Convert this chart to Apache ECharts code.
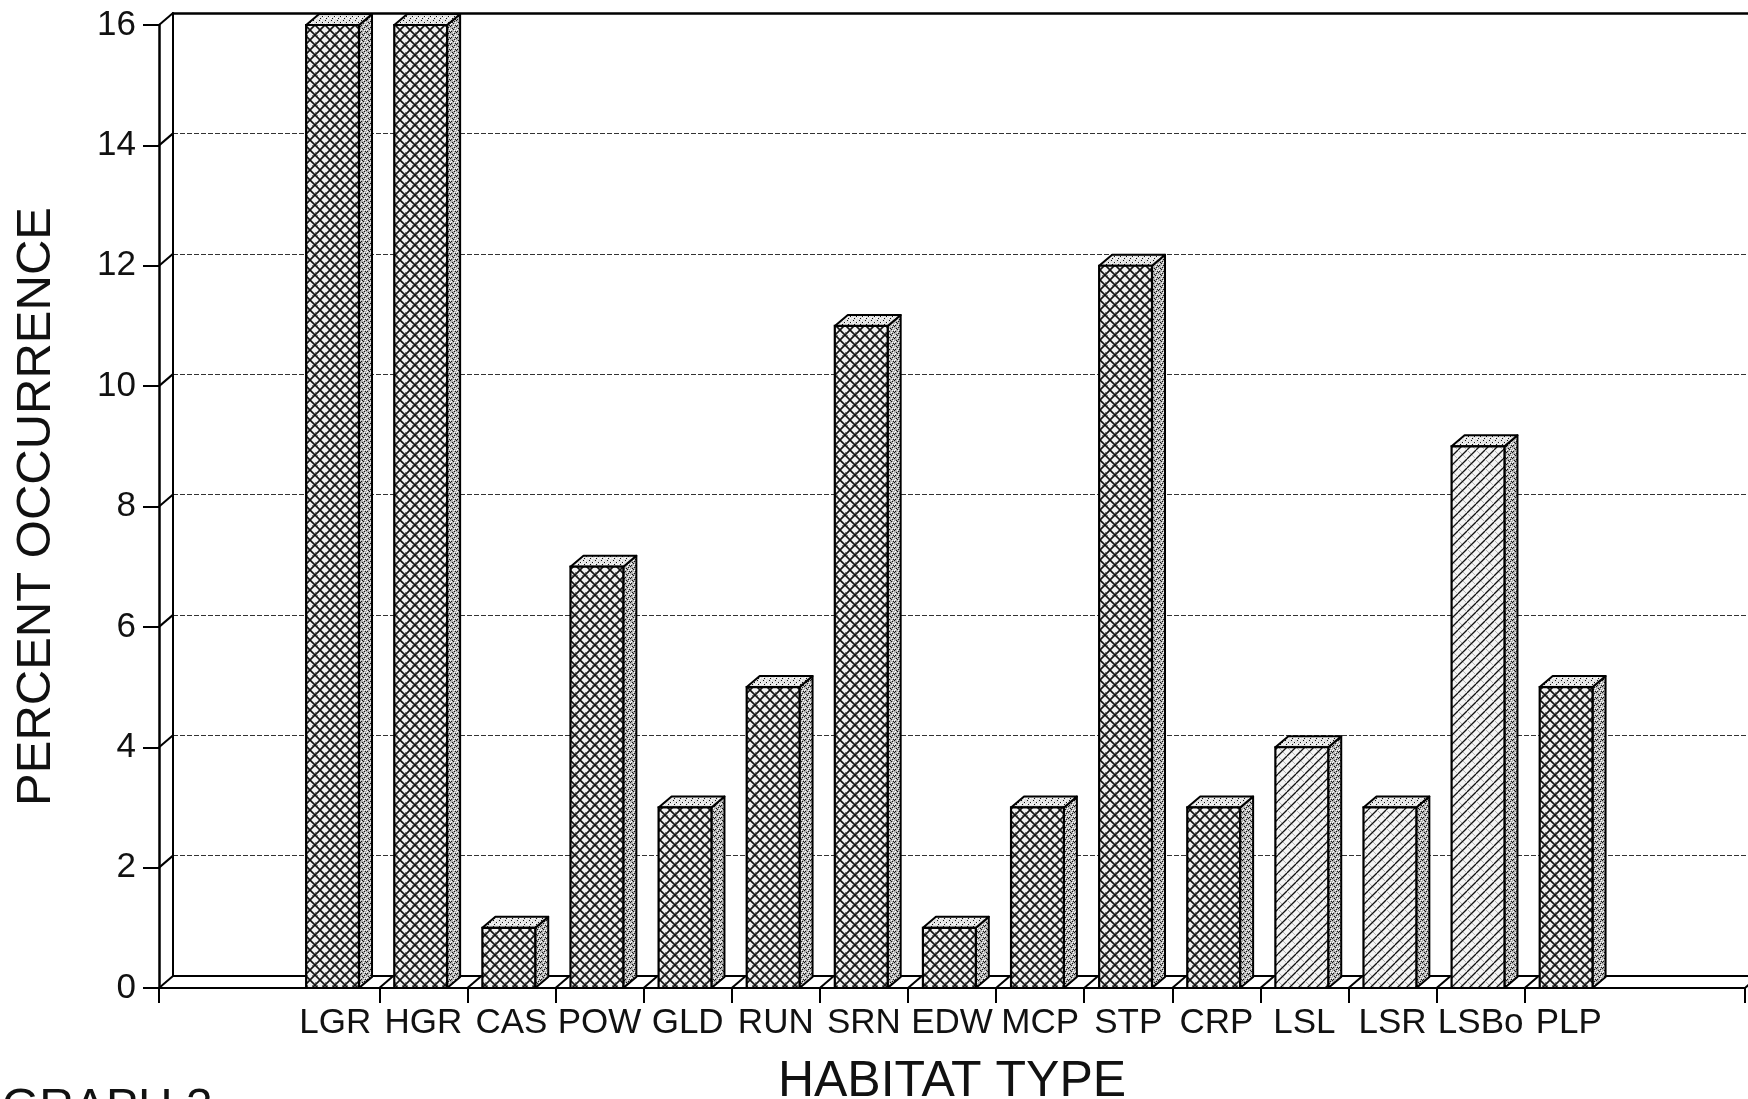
<!DOCTYPE html>
<html>
<head>
<meta charset="utf-8">
<title>Percent occurrence by habitat type</title>
<script src="https://cdn.jsdelivr.net/npm/echarts@6/dist/echarts.min.js"></script>
<style>
  html, body { margin: 0; padding: 0; background: #fff; }
  #chart { width: 1748px; height: 1099px; }
</style>
</head>
<body>
<div id="chart"></div>
<script>
// values
const habitats = ['LGR', 'HGR', 'CAS', 'POW', 'GLD', 'RUN', 'SRN', 'EDW', 'MCP', 'STP', 'CRP', 'LSL', 'LSR', 'LSBo', 'PLP']
const percentOccurrence = [16, 16, 1, 7, 3, 5, 11, 1, 3, 12, 3, 4, 3, 9, 5]
const yTickValues = [0, 2, 4, 6, 8, 10, 12, 14, 16]
const lightHatch = ['LSL', 'LSR', 'LSBo'] // these bars use the lighter diagonal fill

// layout (px)
const FONT = '"Liberation Sans", Arial, Helvetica, sans-serif'
const LEFT = 159, TOP = 25, WIDTH = 1586, HEIGHT = 963
const DX = 14, DY = 12       // depth of the box frame
const SLOTS = 18, FIRST = 1.5 // x axis in bar slots, 1.5 empty slots on each side

// fill patterns
function makePattern(w, h, draw) {
  const c = document.createElement('canvas')
  c.width = w; c.height = h
  draw(c.getContext('2d'))
  return { image: c, repeat: 'repeat' }
}
const crossPat = makePattern(10, 10, ctx => {
  ctx.fillStyle = '#f0f0f0'
  ctx.fillRect(0, 0, 10, 10)
  ctx.strokeStyle = '#111'
  ctx.lineWidth = 1.6
  ctx.beginPath()
  ctx.moveTo(-1, -1); ctx.lineTo(11, 11)
  ctx.moveTo(11, -1); ctx.lineTo(-1, 11)
  ctx.stroke()
  ctx.fillStyle = '#777'
  ctx.fillRect(5, 2, 1, 1); ctx.fillRect(2, 5, 1, 1); ctx.fillRect(7, 5, 1, 1)
})
const lightPat = makePattern(9, 9, ctx => {
  ctx.fillStyle = '#f4f4f4'
  ctx.fillRect(0, 0, 9, 9)
  ctx.strokeStyle = '#aaa'
  ctx.lineWidth = 0.8
  ctx.beginPath()
  ctx.moveTo(-1, -1); ctx.lineTo(10, 10)
  ctx.stroke()
  ctx.strokeStyle = '#111'
  ctx.lineWidth = 1.3
  ctx.beginPath()
  ctx.moveTo(10, -1); ctx.lineTo(-1, 10)
  ctx.stroke()
})
const speckle = (bg, dots) => makePattern(6, 6, ctx => {
  ctx.fillStyle = bg
  ctx.fillRect(0, 0, 6, 6)
  ctx.fillStyle = '#111'
  dots.forEach(([x, y]) => ctx.fillRect(x, y, 1, 1))
  ctx.fillStyle = '#fff'
  ;[[0, 0], [3, 2], [5, 4], [1, 5], [4, 0]].forEach(([x, y]) => ctx.fillRect(x, y, 1, 1))
})
const sidePat = speckle('#b4b4b4', [[1, 1], [4, 3], [2, 4], [0, 2], [5, 1], [3, 5]])
const topPat = speckle('#e2e2e2', [[1, 2], [4, 4], [2, 0]])

const boundaries = habitats.slice(1).map((_, i) => FIRST + i + 1)

const chart = echarts.init(document.getElementById('chart'))

const option = {
  backgroundColor: '#fff',
  animation: false,
  grid: [
    // front plane
    { left: LEFT, top: TOP, width: WIDTH, height: HEIGHT, outerBoundsMode: 'none', containLabel: false },
    // back wall
    { left: LEFT + DX, top: TOP - DY, width: WIDTH + 60, height: HEIGHT, outerBoundsMode: 'none', containLabel: false }
  ],
  xAxis: [
    {
      gridIndex: 0, type: 'value', min: 0, max: SLOTS,
      name: 'HABITAT TYPE', nameLocation: 'middle', nameGap: 69,
      nameTextStyle: { fontFamily: FONT, fontSize: 50, color: '#111' },
      axisLine: { lineStyle: { color: '#000', width: 2 } },
      axisTick: { customValues: [0].concat(boundaries, [SLOTS]), length: 15, lineStyle: { color: '#000', width: 2 } },
      axisLabel: {
        customValues: habitats.map((_, i) => FIRST + 0.5 + i),
        formatter: v => habitats[Math.round(v - FIRST - 0.5)],
        fontFamily: FONT, fontSize: 35, color: '#111', margin: 18
      },
      splitLine: { show: false }
    },
    {
      gridIndex: 1, type: 'value', min: 0, max: 1, position: 'bottom',
      axisLine: { lineStyle: { color: '#000', width: 2 } },
      axisTick: { show: false }, axisLabel: { show: false }, splitLine: { show: false }
    },
    {
      gridIndex: 1, type: 'value', min: 0, max: 1, position: 'top',
      axisLine: { lineStyle: { color: '#000', width: 2.5 } },
      axisTick: { show: false }, axisLabel: { show: false }, splitLine: { show: false }
    }
  ],
  yAxis: [
    {
      gridIndex: 0, type: 'value', min: 0, max: 16, interval: 2,
      name: 'PERCENT OCCURRENCE', nameLocation: 'middle', nameGap: 98, nameRotate: 90,
      nameTextStyle: { fontFamily: FONT, fontSize: 49, color: '#111' },
      axisLine: { show: true, lineStyle: { color: '#000', width: 2.5 } },
      axisTick: { show: true, length: 16, lineStyle: { color: '#000', width: 2 } },
      axisLabel: { fontFamily: FONT, fontSize: 35, color: '#111', margin: 23 },
      splitLine: { show: false }
    },
    {
      gridIndex: 1, type: 'value', min: 0, max: 16, interval: 2,
      axisLine: { show: true, lineStyle: { color: '#000', width: 2 } },
      axisTick: { show: false }, axisLabel: { show: false },
      splitLine: { show: true, lineStyle: { color: '#333', width: 1.2, type: [5, 2] } }
    }
  ],
  graphic: [
    { type: 'text', left: 2, top: 1085, style: { text: 'GRAPH 3', font: `48px ${FONT}`, fill: '#111' } }
  ],
  series: [
    {
      // diagonals joining the front frame to the back wall
      type: 'custom', xAxisIndex: 0, yAxisIndex: 0, z: 1, silent: true,
      data: yTickValues.map(v => [0, v]).concat(boundaries.map(b => [b, 0]), [[SLOTS, 0]]),
      renderItem: (params, api) => {
        const p = api.coord([api.value(0), api.value(1)])
        return {
          type: 'line',
          shape: { x1: p[0], y1: p[1], x2: p[0] + DX, y2: p[1] - DY },
          style: { stroke: '#000', lineWidth: 2 }
        }
      }
    },
    {
      name: 'Percent occurrence',
      type: 'custom', xAxisIndex: 0, yAxisIndex: 0, z: 3,
      data: percentOccurrence.map((v, i) => [FIRST + 0.5 + i, v]),
      renderItem: (params, api) => {
        const base = api.coord([api.value(0), 0])
        const top = api.coord([api.value(0), api.value(1)])
        const slot = api.size([1, 0])[0]
        const x0 = base[0] - 0.33 * slot
        const x1 = x0 + 0.6 * slot
        const yb = base[1], yt = top[1]
        const bx = 13, by = 11
        const fill = lightHatch.includes(habitats[params.dataIndex]) ? lightPat : crossPat
        return {
          type: 'group',
          children: [
            { type: 'polygon', shape: { points: [[x1, yb], [x1 + bx, yb - by], [x1 + bx, yt - by], [x1, yt]] },
              style: { fill: sidePat, stroke: '#000', lineWidth: 2, lineJoin: 'round' } },
            { type: 'polygon', shape: { points: [[x0, yt], [x0 + bx, yt - by], [x1 + bx, yt - by], [x1, yt]] },
              style: { fill: topPat, stroke: '#000', lineWidth: 2, lineJoin: 'round' } },
            { type: 'rect', shape: { x: x0, y: yt, width: x1 - x0, height: yb - yt },
              style: { fill: fill, stroke: '#000', lineWidth: 2.2 } }
          ]
        }
      }
    }
  ]
}

chart.setOption(option)
window.addEventListener('resize', () => chart.resize())
</script>
</body>
</html>
